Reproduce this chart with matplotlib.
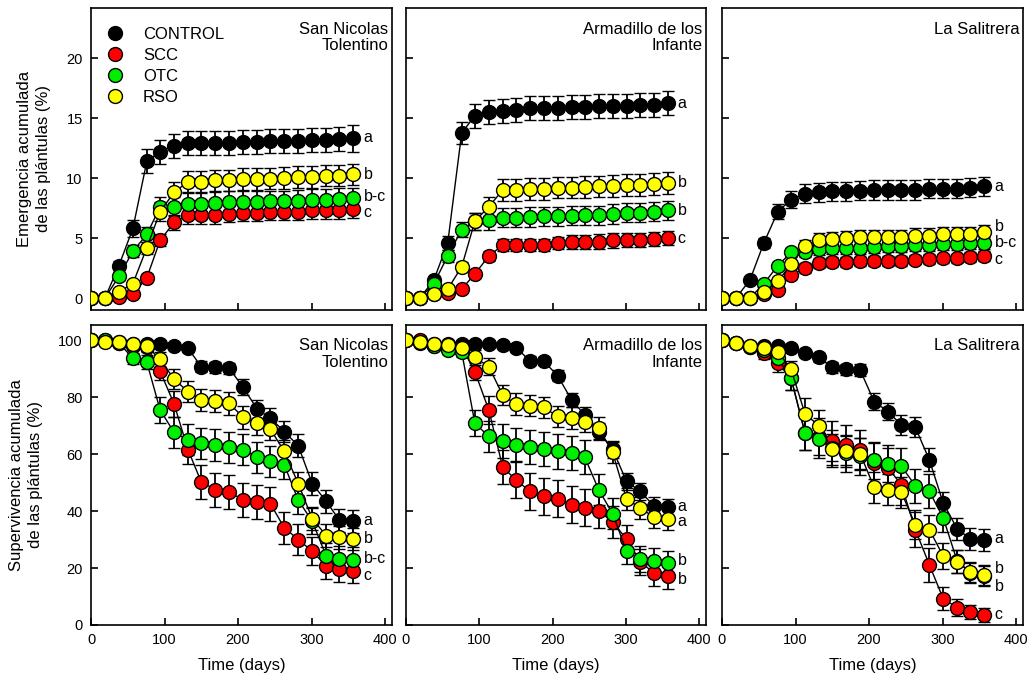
import matplotlib.pyplot as plt
from matplotlib.lines import Line2D

plt.rcParams['font.family'] = ['Liberation Sans', 'DejaVu Sans']

# sampling days (same for every panel)
days = [0, 19, 38, 57, 76, 94, 113, 132, 150, 169, 188, 207, 226, 244, 263, 282, 301, 320, 338, 357]

treatments = ['CONTROL', 'SCC', 'OTC', 'RSO']
colors = ['#000000', '#ff0000', '#00ee00', '#ffff00']
sites = ['San Nicolas\nTolentino', 'Armadillo de los\nInfante', 'La Salitrera']

# ---- emergence (%) ----
em_snt = [
    [0, 0, 2.7, 5.8, 11.4, 12.2, 12.7, 12.9, 12.9, 12.9, 12.9, 13.0, 13.0, 13.1, 13.1, 13.1, 13.2, 13.2, 13.25, 13.3],
    [0, 0, 0.1, 0.3, 1.7, 4.8, 6.3, 6.9, 6.9, 6.9, 7.0, 7.1, 7.1, 7.2, 7.2, 7.2, 7.3, 7.3, 7.35, 7.45],
    [0, 0, 1.8, 3.9, 5.3, 7.6, 7.6, 7.85, 7.85, 7.9, 8.0, 8.0, 8.0, 8.05, 8.05, 8.1, 8.2, 8.2, 8.25, 8.3],
    [0, 0, 0.5, 1.2, 4.2, 7.2, 8.8, 9.7, 9.7, 9.8, 9.8, 9.9, 9.9, 9.95, 10.0, 10.1, 10.1, 10.2, 10.2, 10.3],
]
em_snt_err = [
    [0, 0, 0.4, 0.7, 1.0, 1.0, 1.0, 1.0, 1.0, 1.0, 1.0, 1.0, 1.0, 1.0, 1.0, 1.0, 1.0, 1.0, 1.0, 1.1],
    [0, 0, 0.1, 0.2, 0.3, 0.5, 0.6, 0.7, 0.7, 0.7, 0.7, 0.7, 0.7, 0.7, 0.7, 0.7, 0.7, 0.7, 0.8, 0.8],
    [0, 0, 0.3, 0.5, 0.6, 0.8, 0.8, 0.9, 0.9, 0.9, 0.9, 0.9, 0.9, 0.9, 0.9, 0.9, 0.9, 0.9, 0.9, 0.9],
    [0, 0, 0.1, 0.2, 0.5, 0.8, 0.9, 0.9, 0.9, 0.9, 0.9, 0.9, 0.9, 0.9, 0.9, 0.9, 0.9, 0.9, 0.9, 0.9],
]
em_adi = [
    [0, 0, 1.5, 4.6, 13.75, 15.2, 15.5, 15.6, 15.7, 15.8, 15.8, 15.8, 15.9, 15.9, 16.0, 16.0, 16.0, 16.05, 16.1, 16.25],
    [0, 0, 0.3, 0.4, 0.75, 2.0, 3.5, 4.4, 4.4, 4.45, 4.45, 4.6, 4.65, 4.65, 4.7, 4.8, 4.85, 4.85, 4.9, 5.0],
    [0, 0, 1.2, 3.5, 5.7, 6.4, 6.5, 6.7, 6.7, 6.75, 6.8, 6.8, 6.85, 6.9, 6.9, 7.0, 7.1, 7.1, 7.2, 7.3],
    [0, 0, 0.3, 0.75, 2.6, 6.4, 7.6, 9.0, 9.0, 9.1, 9.1, 9.2, 9.2, 9.25, 9.3, 9.35, 9.4, 9.4, 9.5, 9.6],
]
em_adi_err = [
    [0, 0, 0.3, 0.6, 0.9, 1.0, 1.0, 1.0, 1.0, 1.0, 1.0, 1.0, 1.0, 1.0, 1.0, 1.0, 1.0, 1.0, 1.0, 1.0],
    [0, 0, 0.1, 0.1, 0.2, 0.3, 0.4, 0.5, 0.5, 0.5, 0.5, 0.5, 0.6, 0.6, 0.6, 0.6, 0.6, 0.6, 0.6, 0.6],
    [0, 0, 0.3, 0.5, 0.6, 0.7, 0.8, 0.8, 0.8, 0.8, 0.8, 0.8, 0.8, 0.8, 0.8, 0.8, 0.8, 0.8, 0.8, 0.8],
    [0, 0, 0.1, 0.2, 0.4, 0.7, 0.8, 0.9, 0.9, 0.9, 0.9, 0.9, 0.9, 0.9, 0.9, 0.9, 0.9, 0.9, 0.9, 0.9],
]
em_ls = [
    [0, 0, 1.5, 4.6, 7.2, 8.2, 8.7, 8.8, 8.9, 8.9, 8.95, 9.0, 9.0, 9.0, 9.0, 9.1, 9.1, 9.1, 9.2, 9.3],
    [0, 0, 0, 0.3, 0.7, 1.9, 2.5, 2.9, 3.0, 3.0, 3.05, 3.1, 3.1, 3.1, 3.2, 3.25, 3.3, 3.3, 3.4, 3.5],
    [0, 0, 0, 1.2, 2.7, 3.8, 3.8, 4.1, 4.2, 4.2, 4.2, 4.25, 4.3, 4.35, 4.4, 4.45, 4.5, 4.5, 4.6, 4.6],
    [0, 0, 0, 0.5, 1.4, 2.8, 4.35, 4.8, 4.9, 5.0, 5.05, 5.05, 5.1, 5.1, 5.2, 5.2, 5.3, 5.3, 5.35, 5.5],
]
em_ls_err = [
    [0, 0, 0.2, 0.4, 0.6, 0.7, 0.8, 0.8, 0.8, 0.8, 0.8, 0.8, 0.8, 0.8, 0.8, 0.8, 0.8, 0.8, 0.8, 0.8],
    [0, 0, 0, 0.1, 0.2, 0.3, 0.4, 0.4, 0.4, 0.4, 0.4, 0.4, 0.4, 0.4, 0.4, 0.4, 0.4, 0.4, 0.4, 0.4],
    [0, 0, 0, 0.2, 0.3, 0.4, 0.4, 0.5, 0.5, 0.5, 0.5, 0.5, 0.5, 0.5, 0.5, 0.5, 0.5, 0.5, 0.5, 0.5],
    [0, 0, 0, 0.1, 0.3, 0.4, 0.5, 0.6, 0.6, 0.6, 0.6, 0.6, 0.6, 0.6, 0.6, 0.6, 0.6, 0.6, 0.6, 0.6],
]

# ---- survival (%) ----
sv_snt = [
    [100, 99.6, 99.2, 98.8, 98.6, 98.6, 97.9, 97.1, 90.7, 90.4, 90.1, 83.4, 75.8, 72.6, 67.9, 62.9, 49.6, 43.4, 36.8, 36.4],
    [100, 100, 99, 98, 97.7, 89.1, 77.6, 61.5, 50.2, 47.5, 46.6, 44.0, 43.1, 42.6, 34.1, 30.0, 25.9, 20.7, 19.7, 19.1],
    [100, 100, 99, 93.6, 92.2, 75.5, 67.6, 65.0, 63.8, 63.2, 62.4, 61.5, 58.9, 57.4, 56.2, 43.8, 36.4, 24.2, 23.2, 22.8],
    [100, 99.4, 99.2, 98.5, 97.9, 93.2, 86.3, 81.9, 79.0, 78.6, 77.8, 72.9, 70.8, 68.8, 60.9, 49.6, 37.3, 31.4, 30.8, 30.2],
]
sv_snt_err = [
    [0, 0.5, 0.8, 1, 1, 1, 1, 1.2, 1.8, 1.8, 2, 2.8, 3.2, 3.5, 3.8, 4, 4, 4, 4, 4],
    [0, 0.5, 1, 1.5, 2, 3, 4.5, 5, 6, 6, 6, 6, 6, 6, 5.5, 5.5, 5, 4.5, 4.5, 4.5],
    [0, 0.5, 1, 2, 2.5, 4.5, 5.5, 5.5, 5.5, 5.5, 5.5, 5.5, 5.5, 5.5, 5, 5, 4.5, 4.5, 4.5, 4.5],
    [0, 0.5, 1, 1, 1.5, 2.5, 3.5, 3.8, 4, 4, 4, 4, 4, 4, 4, 4, 4, 4, 4, 4],
]
sv_adi = [
    [100, 99.4, 98.8, 98.8, 98.8, 98.8, 98.6, 98.2, 97.4, 92.8, 92.6, 87.5, 79.0, 73.7, 67.9, 61.7, 50.4, 46.9, 41.9, 41.4],
    [100, 100, 98, 97.7, 97.7, 88.9, 75.5, 55.4, 51.0, 46.9, 45.2, 44.3, 42.2, 41.1, 40.1, 36.1, 30.2, 22.2, 18.3, 17.2],
    [100, 99.0, 97.9, 96.7, 95.9, 70.8, 66.2, 64.6, 63.2, 62.4, 61.7, 60.9, 60.3, 58.9, 47.5, 39.1, 25.9, 23.2, 22.4, 21.6],
    [100, 99.4, 98.8, 98.2, 97.1, 93.9, 90.7, 80.7, 77.5, 77.0, 76.4, 73.2, 72.6, 71.4, 69.1, 60.6, 44.2, 41.1, 37.9, 37.2],
]
sv_adi_err = [
    [0, 0.5, 0.8, 1, 1, 1, 1, 1, 1.2, 1.5, 1.5, 2, 2.5, 2.8, 3, 3, 3, 3, 3, 3],
    [0, 0.5, 1, 1.5, 2, 3, 5, 6, 6.5, 6.5, 6.5, 6.5, 6.5, 6.5, 6, 5.5, 5, 4.5, 4.5, 4.5],
    [0, 0.5, 1, 1.5, 2, 4.5, 5.5, 6, 6, 6, 6, 6, 6, 6, 5.5, 5.5, 4.5, 4.5, 4.5, 4.5],
    [0, 0.5, 1, 1, 1.5, 2.5, 3, 3.5, 3.8, 3.8, 3.8, 3.8, 3.8, 3.8, 3.8, 3.8, 3.8, 3.8, 3.8, 3.8],
]
sv_ls = [
    [100, 99, 98, 98, 98, 97.4, 95.3, 93.9, 90.4, 89.7, 89.5, 78.4, 74.9, 70.2, 69.4, 58.0, 42.8, 33.7, 30.2, 29.8],
    [100, 99, 97.7, 95.3, 91.8, 86.6, 67.3, 66.0, 64.6, 63.2, 61.5, 57.0, 55.1, 49.2, 33.5, 21.2, 9.2, 6.1, 4.6, 3.4],
    [100, 99, 97.7, 96.5, 93.6, 86.6, 67.3, 65.2, 62.1, 60.3, 59.2, 57.8, 56.6, 55.7, 48.9, 46.9, 37.6, 22.4, 18.3, 17.2],
    [100, 99, 97.9, 97.1, 95.9, 89.7, 74.1, 69.9, 61.7, 60.9, 60.1, 48.3, 47.5, 46.6, 35.2, 33.5, 24.2, 22.2, 18.6, 17.7],
]
sv_ls_err = [
    [0, 0.5, 1, 1, 1, 1, 1.2, 1.5, 2, 2, 2, 3, 3, 3.5, 3.5, 4, 4, 4, 4, 4],
    [0, 0.5, 1.5, 2, 3, 4, 6, 6.5, 7, 7, 7, 7, 7, 7, 6, 6, 4, 3, 2.5, 2.5],
    [0, 0.5, 1.5, 2, 3, 4, 6, 6.5, 6.5, 6.5, 6.5, 6.5, 6.5, 6.5, 6, 6, 5, 4, 3.5, 3.5],
    [0, 0.5, 1, 1.5, 2, 3, 5.5, 5.5, 5.5, 5.5, 5.5, 5.5, 5.5, 5.5, 5, 5, 4.5, 4, 3.5, 3.5],
]

# significance letters (text, y)
em_letters = [
    [('a', 13.4), ('b', 10.3), ('b-c', 8.5), ('c', 7.1)],
    [('a', 16.2), ('b', 9.6), ('b', 7.3), ('c', 5.0)],
    [('a', 9.3), ('b', 6.0), ('b-c', 4.6), ('c', 3.25)],
]
sv_letters = [
    [('a', 36.6), ('b', 30.2), ('b-c', 23.2), ('c', 17.2)],
    [('a', 41.7), ('a', 36.4), ('b', 22.8), ('b', 16.0)],
    [('a', 30.2), ('b', 19.7), ('b', 13.4), ('c', 3.7)],
]

em_data = [(em_snt, em_snt_err), (em_adi, em_adi_err), (em_ls, em_ls_err)]
sv_data = [(sv_snt, sv_snt_err), (sv_adi, sv_adi_err), (sv_ls, sv_ls_err)]

fig = plt.figure(figsize=(10.29, 6.8), dpi=100)
W, H = 1029, 680
col_px = [(91, 392), (406, 706), (722, 1023)]
row_px = [(8, 310), (325, 625)]


def draw_panel(ax, series, errs):
    for vals, err, col in zip(series, errs, colors):
        ax.errorbar(days, vals, yerr=err, fmt='-', color='black', lw=1,
                    ecolor='black', elinewidth=1.3, capsize=4, capthick=1.3,
                    marker='o', ms=10, mfc=col, mec='black', mew=1, zorder=3)


for r in range(2):
    for c in range(3):
        x0, x1 = col_px[c]
        t, b = row_px[r]
        ax = fig.add_axes([x0 / W, 1 - b / H, (x1 - x0) / W, (b - t) / H])
        if r == 0:
            draw_panel(ax, *em_data[c])
            ax.set_ylim(-1, 24.17)
            ax.set_yticks([0, 5, 10, 15, 20])
            letters = em_letters[c]
        else:
            draw_panel(ax, *sv_data[c])
            ax.set_ylim(0, 105.3)
            ax.set_yticks([0, 20, 40, 60, 80, 100])
            letters = sv_letters[c]
        ax.set_xlim(0, 409.5)
        ax.set_xticks([0, 100, 200, 300, 400])
        ax.tick_params(direction='in', length=5, width=1.2, labelsize=10.5, pad=6)
        for s in ax.spines.values():
            s.set_linewidth(1.2)
        if r == 0:
            ax.set_xticklabels([])
        else:
            ax.set_xlabel('Time (days)', fontsize=12, labelpad=8)
        if c > 0:
            ax.set_yticklabels([])
        for txt, y in letters:
            ax.text(371, y, txt, fontsize=11.5, va='center', ha='left')
        ax.text(0.988, 0.955, sites[c], transform=ax.transAxes, ha='right',
                va='top', fontsize=12, linespacing=1.1)
        if c == 0:
            if r == 0:
                ax.set_ylabel('Emergencia acumulada\nde las plántulas (%)', fontsize=12,
                              labelpad=11, linespacing=1.35)
                handles = [Line2D([], [], ls='none', marker='o', ms=10, mfc=col,
                                  mec='black', mew=1) for col in colors]
                ax.legend(handles, treatments, loc='upper left', frameon=False,
                          fontsize=12, handlelength=1.0, handletextpad=1.17,
                          labelspacing=0.36, borderaxespad=0,
                          bbox_to_anchor=(0.03, 0.96))
            else:
                ax.set_ylabel('Supervivencia acumulada\nde las plántulas (%)', fontsize=12,
                              labelpad=11, linespacing=1.35)

fig.savefig('out.png', dpi=100)
